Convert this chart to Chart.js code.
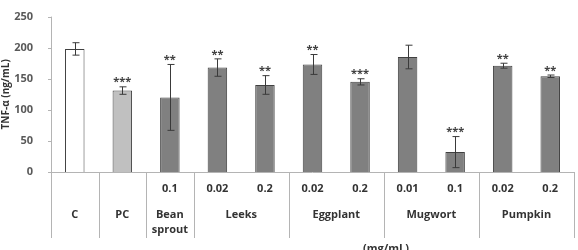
<!DOCTYPE html>
<html>
<head>
<meta charset="utf-8">
<script src="https://cdn.jsdelivr.net/npm/chart.js@4"></script>
<style>
  html, body { margin: 0; padding: 0; background: #fff; }
  #wrap { width: 578px; height: 250px; position: relative; }
</style>
</head>
<body>
<div id="wrap"><canvas id="chart"></canvas></div>
<script>
// data
const doses = ["", "", "0.1", "0.02", "0.2", "0.02", "0.2", "0.01", "0.1", "0.02", "0.2"]
const values = [198, 131, 120, 168, 140, 173, 145, 185, 32, 171, 154]
const errors = [10, 6, 53, 14, 15, 16, 5, 19, 25, 4, 2]
const stars = ["", "***", "**", "**", "**", "**", "***", "", "***", "**", "**"]
const groups = [["C"], ["PC"], ["Bean", "sprout"], ["Leeks"], ["Eggplant"], ["Mugwort"], ["Pumpkin"]]
const groupSpan = [1, 1, 1, 2, 2, 2, 2]
const barColors = ["#ffffff", "#c0c0c0", "#808080", "#808080", "#808080", "#808080", "#808080", "#808080", "#808080", "#808080", "#808080"]
const yTicks = [0, 50, 100, 150, 200, 250]

const font = "'Open Sans', 'Liberation Sans', sans-serif"
const lineCol = "#b4b4b4"

const extras = {
  id: "extras",
  afterDatasetsDraw(chart) {
    let ctx = chart.ctx
    let x = chart.scales.x
    let y = chart.scales.y
    let area = chart.chartArea
    let meta = chart.getDatasetMeta(0)
    ctx.save()

    // error bars
    ctx.strokeStyle = "#3a3a3a"
    ctx.lineWidth = 1
    values.forEach((v, i) => {
      let cx = Math.round(meta.data[i].x) + 0.5
      let top = y.getPixelForValue(v + errors[i])
      let bot = y.getPixelForValue(v - errors[i])
      ctx.beginPath()
      ctx.moveTo(cx, top); ctx.lineTo(cx, bot)
      ctx.moveTo(cx - 3, top); ctx.lineTo(cx + 4, top)
      ctx.moveTo(cx - 3, bot); ctx.lineTo(cx + 4, bot)
      ctx.stroke()
    })

    // significance stars
    ctx.fillStyle = "#404040"
    ctx.font = "bold 11px " + font
    ctx.textAlign = "center"
    ctx.textBaseline = "bottom"
    stars.forEach((s, i) => {
      if (!s) return
      let top = y.getPixelForValue(values[i] + errors[i])
      ctx.fillText(s, meta.data[i].x, top + 1)
    })

    // table lines below the axis
    let bottom = 238
    ctx.strokeStyle = lineCol
    ctx.beginPath()
    ctx.moveTo(area.left, area.bottom + 0.5)
    ctx.lineTo(area.right, area.bottom + 0.5)
    ctx.moveTo(area.left + 0.5, area.top)
    ctx.lineTo(area.left + 0.5, bottom)
    let step = x.getPixelForValue(1) - x.getPixelForValue(0)
    let idx = 0
    groups.forEach((g, gi) => {
      idx += groupSpan[gi]
      let sx = Math.round(x.getPixelForValue(idx - 1) + step / 2) + 0.5
      ctx.moveTo(sx, area.bottom)
      ctx.lineTo(sx, bottom)
    })
    // y tick marks
    yTicks.forEach(t => {
      let py = Math.round(y.getPixelForValue(t)) + 0.5
      ctx.moveTo(area.left - 3, py)
      ctx.lineTo(area.left, py)
    })
    ctx.stroke()

    // group names
    ctx.fillStyle = "#333333"
    ctx.font = "bold 11px " + font
    ctx.textBaseline = "middle"
    idx = 0
    groups.forEach((g, gi) => {
      let first = idx
      idx += groupSpan[gi]
      let cx = (x.getPixelForValue(first) + x.getPixelForValue(idx - 1)) / 2
      g.forEach((line, li) => ctx.fillText(line, cx, 215 + li * 15))
    })
    ctx.fillText("(mg/mL)", 386, 249)
    ctx.restore()
  }
}

new Chart(document.getElementById("chart"), {
  type: "bar",
  data: {
    labels: doses,
    datasets: [{
      data: values,
      backgroundColor: barColors,
      borderColor: "#404040",
      borderWidth: 1,
      categoryPercentage: 1,
      barPercentage: 0.41
    }]
  },
  options: {
    responsive: true,
    maintainAspectRatio: false,
    animation: false,
    layout: { padding: { top: 6, right: 4, left: 0, bottom: 0 } },
    plugins: { legend: { display: false }, tooltip: { enabled: false } },
    scales: {
      x: {
        grid: { display: false, drawTicks: false },
        border: { display: false },
        ticks: { color: "#333333", font: { family: font, size: 11, weight: "bold" }, padding: 10, maxRotation: 0, autoSkip: false },
        afterFit: function(scale) { scale.height = 78 }
      },
      y: {
        min: 0,
        max: 250,
        grid: { display: false },
        border: { display: false },
        ticks: { stepSize: 50, color: "#595959", font: { family: font, size: 11, weight: "bold" }, padding: 10 },
        title: { display: true, text: "TNF-α (ng/mL)", color: "#333333", font: { family: font, size: 10, weight: "bold" }, padding: { top: 0, bottom: 4 } },
        afterFit: function(scale) { scale.width = 51 }
      }
    }
  },
  plugins: [extras]
})
</script>
</body>
</html>
